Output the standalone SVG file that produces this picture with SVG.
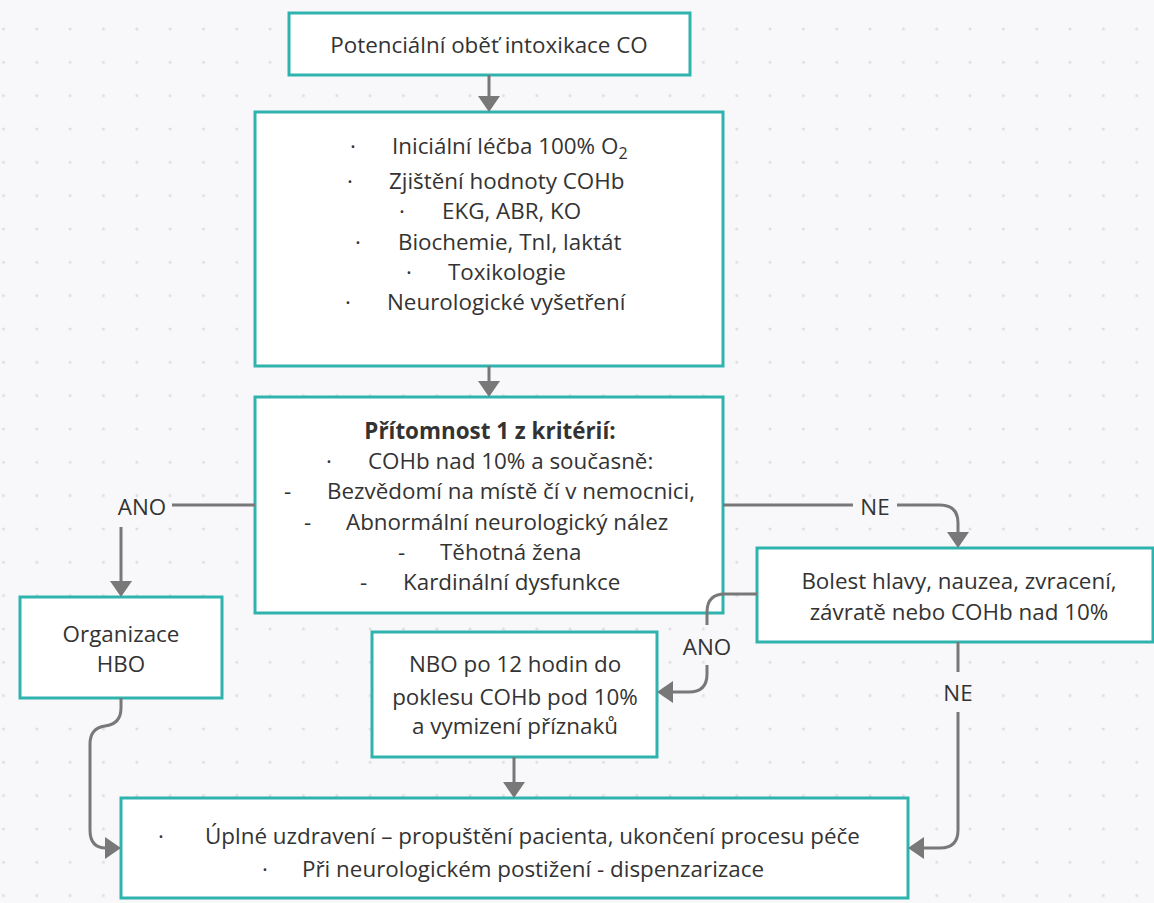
<svg xmlns="http://www.w3.org/2000/svg" width="1154" height="903" viewBox="0 0 1154 903">
<style>
.box{fill:#ffffff;stroke:#2fb3ae;stroke-width:3}
.con{fill:none;stroke:#787878;stroke-width:3}
text{font-family:"Open Sans","Noto Sans","Liberation Sans",sans-serif;font-size:22.4px;fill:#333333}
.c{text-anchor:middle}
.b{font-weight:bold}
</style>
<defs>
<pattern id="dots" x="3.5" y="29" width="33.33" height="33.33" patternUnits="userSpaceOnUse">
<circle cx="0" cy="0" r="1.5" fill="#dcdce2"/><circle cx="33.33" cy="0" r="1.5" fill="#dcdce2"/><circle cx="0" cy="33.33" r="1.5" fill="#dcdce2"/><circle cx="33.33" cy="33.33" r="1.5" fill="#dcdce2"/>
</pattern>
<marker id="arr" viewBox="0 0 16 22" refX="8" refY="11" markerWidth="16" markerHeight="22" markerUnits="userSpaceOnUse" orient="auto">
<path d="M0,0 L16,11 L0,22 z" fill="#787878"/>
</marker>
</defs>
<rect width="1154" height="903" fill="#f8f8fa"/>
<rect width="1154" height="903" fill="url(#dots)"/>

<g id="n1">
<rect class="box" x="289" y="13" width="401" height="62"/>
<text class="c" x="489" y="53">Potenciální oběť intoxikace CO</text>
</g>

<g id="n2">
<rect class="box" x="255" y="112" width="468" height="254"/>
<text x="350" y="154">·</text><text x="392" y="154">Iniciální léčba 100% O<tspan font-size="16" dy="5">2</tspan></text>
<text x="347" y="189">·</text><text x="389" y="189">Zjištění hodnoty COHb</text>
<text x="399" y="219">·</text><text x="442" y="219">EKG, ABR, KO</text>
<text x="355" y="250">·</text><text x="398" y="250">Biochemie, TnI, laktát</text>
<text x="406" y="280">·</text><text x="448" y="280">Toxikologie</text>
<text x="345" y="310">·</text><text x="387" y="310">Neurologické vyšetření</text>
</g>

<g id="n3">
<rect class="box" x="255" y="397" width="468" height="216"/>
<text class="c b" x="490" y="439">Přítomnost 1 z kritérií:</text>
<text x="326" y="469">·</text><text x="368" y="469">COHb nad 10% a současně:</text>
<text x="284" y="499">-</text><text x="327" y="499">Bezvědomí na místě čí v nemocnici,</text>
<text x="304" y="530">-</text><text x="346" y="530">Abnormální neurologický nález</text>
<text x="398" y="560">-</text><text x="440" y="560">Těhotná žena</text>
<text x="360" y="590">-</text><text x="403" y="590">Kardinální dysfunkce</text>
</g>

<g id="n4">
<rect class="box" x="20" y="597" width="202" height="101"/>
<text class="c" x="121" y="642">Organizace</text>
<text class="c" x="121" y="672">HBO</text>
</g>

<g id="n5">
<rect class="box" x="757" y="548" width="396" height="94"/>
<text class="c" x="959" y="589">Bolest hlavy, nauzea, zvracení,</text>
<text class="c" x="959" y="620">závratě nebo COHb nad 10%</text>
</g>

<g id="n6">
<rect class="box" x="372" y="632" width="285" height="125"/>
<text class="c" x="515" y="672">NBO po 12 hodin do</text>
<text class="c" x="515" y="705">poklesu COHb pod 10%</text>
<text class="c" x="515" y="734">a vymizení příznaků</text>
</g>

<g id="n7">
<rect class="box" x="121" y="798" width="787" height="100"/>
<text x="158" y="844">·</text><text x="205" y="844">Úplné uzdravení – propuštění pacienta, ukončení procesu péče</text>
<text x="262" y="877">·</text><text x="302" y="877">Při neurologickém postižení - dispenzarizace</text>
</g>

<g id="connectors">
<path class="con" d="M489,75 V104" marker-end="url(#arr)"/>
<path class="con" d="M489,366 V389" marker-end="url(#arr)"/>
<path class="con" d="M255,505 H172"/>
<path class="con" d="M121,527 V589" marker-end="url(#arr)"/>
<path class="con" d="M723,505 H853"/>
<path class="con" d="M897,505 H940 Q958,505 958,523 V540" marker-end="url(#arr)"/>
<path class="con" d="M757,594 H725 Q707,594 707,612 V625"/>
<path class="con" d="M707,665 V674 Q707,692 689,692 H665" marker-end="url(#arr)"/>
<path class="con" d="M958,642 V672"/>
<path class="con" d="M958,712 V830 Q958,848 940,848 H916" marker-end="url(#arr)"/>
<path class="con" d="M514,757 V790" marker-end="url(#arr)"/>
<path class="con" d="M121,698 V708 Q121,724 105,726 Q90,728 90,744 V830 Q90,848 106,848 H113" marker-end="url(#arr)"/>
<text class="c" x="142" y="515">ANO</text>
<text class="c" x="875" y="515">NE</text>
<text class="c" x="707" y="655">ANO</text>
<text class="c" x="958" y="701">NE</text>
</g>
</svg>
